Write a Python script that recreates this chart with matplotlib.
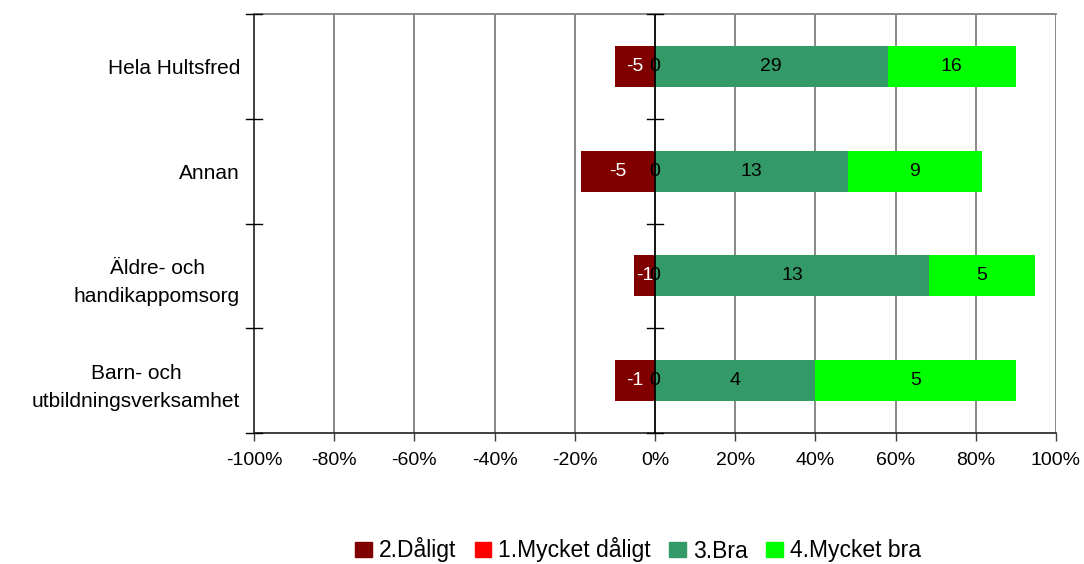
import numpy as np
import matplotlib
matplotlib.use("Agg")
import matplotlib.pyplot as plt
from matplotlib.patches import Patch

plt.rcParams['font.family'] = ['Liberation Sans', 'DejaVu Sans']

categories = ["Hela Hultsfred", "Annan", "Äldre- och\nhandikappomsorg",
              "Barn- och\nutbildningsverksamhet"]
daligt = np.array([5, 5, 1, 1])           # 2.Dåligt (shown negative)
mycket_daligt = np.array([0, 0, 0, 0])    # 1.Mycket dåligt
bra = np.array([29, 13, 13, 4])           # 3.Bra
mycket_bra = np.array([16, 9, 5, 5])      # 4.Mycket bra

c_dal = "#800000"
c_mdal = "#FF0000"
c_bra = "#339966"
c_mbra = "#00FF00"

total = daligt + mycket_daligt + bra + mycket_bra
p_dal = daligt / total
p_mdal = mycket_daligt / total
p_bra = bra / total
p_mbra = mycket_bra / total

fig = plt.figure(figsize=(10.84, 5.64), dpi=100)
ax = fig.add_axes([254/1084, 1-433/564, (1056-254)/1084, (433-14)/564])

y = np.arange(len(categories))
h = 0.39
ax.barh(y, -p_dal, left=-p_mdal, height=h, color=c_dal, zorder=3)
ax.barh(y, -p_mdal, height=h, color=c_mdal, zorder=3)
ax.barh(y, p_bra, height=h, color=c_bra, zorder=3)
ax.barh(y, p_mbra, left=p_bra, height=h, color=c_mbra, zorder=3)

fs = 14
for i in range(len(categories)):
    ax.text(-p_mdal[i] - p_dal[i]/2, y[i], f"-{daligt[i]}", color="white",
            ha="center", va="center", fontsize=fs, zorder=5)
    ax.text(-p_mdal[i]/2, y[i], f"{mycket_daligt[i]}", color="black",
            ha="center", va="center", fontsize=fs, zorder=5)
    ax.text(p_bra[i]/2, y[i], f"{bra[i]}", color="black",
            ha="center", va="center", fontsize=fs, zorder=5)
    ax.text(p_bra[i] + p_mbra[i]/2, y[i], f"{mycket_bra[i]}", color="black",
            ha="center", va="center", fontsize=fs, zorder=5)

ax.set_xlim(-1, 1)
ax.set_ylim(len(categories)-0.5, -0.5)
xt = np.linspace(-1, 1, 11)
ax.set_xticks(xt)
ax.set_xticklabels([f"{int(round(v*100))}%" for v in xt], fontsize=fs)
for v in xt[1:]:
    if abs(v) < 1e-9:
        continue
    ax.axvline(v, color="#808080", lw=1.3, zorder=1)
ax.axvline(0, color="black", lw=1.3, zorder=4)

ax.set_yticks(y)
ax.set_yticklabels(categories, fontsize=15, ha="right", multialignment="center")
for t in ax.get_yticklabels():
    t.set_linespacing(1.6)
ax.tick_params(axis="y", length=0, pad=10)
# category separators as crossing ticks on the left axis and zero line
for b in np.arange(-0.5, len(categories), 1.0):
    ax.plot([-1.02, -0.98], [b, b], color="black", lw=1, clip_on=False, zorder=4)
    ax.plot([-0.02, 0.02], [b, b], color="black", lw=1, clip_on=False, zorder=4)
ax.tick_params(axis="x", length=6, width=1, color="#404040", pad=8)

ax.spines["left"].set_color("#303030")
ax.spines["left"].set_linewidth(1.3)
ax.spines["bottom"].set_color("#303030")
ax.spines["bottom"].set_linewidth(1.3)
ax.spines["top"].set_color("#808080")
ax.spines["top"].set_linewidth(1.3)
ax.spines["right"].set_visible(False)

handles = [Patch(color=c_dal, label="2.Dåligt"),
           Patch(color=c_mdal, label="1.Mycket dåligt"),
           Patch(color=c_bra, label="3.Bra"),
           Patch(color=c_mbra, label="4.Mycket bra")]
fig.legend(handles=handles, loc="center", bbox_to_anchor=(638/1084, 1-550/564),
           ncol=4, frameon=False, fontsize=16.5, handlelength=0.73, handleheight=0.64,
           handletextpad=0.3, columnspacing=0.8, borderpad=0)

fig.savefig("out.png", dpi=100)
